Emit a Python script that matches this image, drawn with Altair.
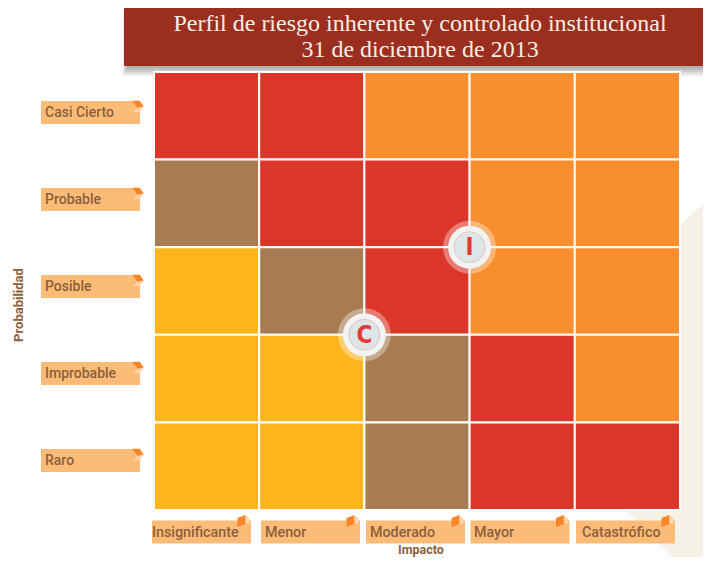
import altair as alt
import pandas as pd

impacts = ["Insignificante", "Menor", "Moderado", "Mayor", "Catastrófico"]
probs = ["Casi Cierto", "Probable", "Posible", "Improbable", "Raro"]
levels = [
    ["R", "R", "O", "O", "O"],
    ["B", "R", "R", "O", "O"],
    ["Y", "B", "R", "O", "O"],
    ["Y", "Y", "B", "R", "O"],
    ["Y", "Y", "B", "R", "R"],
]
marker_names = ["I", "C"]
marker_impact = [3, 2]
marker_prob = [3, 2]

W, H = 695, 549
TEXT = "#8C5F3C"
FONT = "Roboto"

cells = pd.DataFrame([
    {"p": p, "i": i, "level": levels[r][c]}
    for r, p in enumerate(probs) for c, i in enumerate(impacts)
])
one = pd.DataFrame({"a": [0]})
markers = pd.DataFrame({"name": marker_names, "i": marker_impact, "p": marker_prob})
ydf = pd.DataFrame({"label": probs, "k": range(5)})
xdf = pd.DataFrame({"label": impacts, "k": range(5)})


def box(x1, x2, y1, y2, color, opacity=1):
    return alt.Chart(one).mark_rect(color=color, opacity=opacity).encode(
        x=alt.value(x1 - 8), x2=alt.value(x2 - 8), y=alt.value(y1 - 8), y2=alt.value(y2 - 8))


def txt(x, y, s, **kw):
    return alt.Chart(pd.DataFrame({"t": [s]})).mark_text(**kw).encode(
        x=alt.value(x - 8), y=alt.value(y - 8), text="t:N")


# beige backdrop
back = pd.DataFrame({"x": [625, 680, 711], "top": [225, 225, 197], "bot": [510, 565, 565]})
px = alt.Scale(domain=[8, 711], range=[0, 703])
py = alt.Scale(domain=[8, 565], range=[0, 557])
backdrop = alt.Chart(back).mark_area(color="#F5F1E7").encode(
    x=alt.X("x:Q", scale=px, axis=None),
    y=alt.Y("top:Q", scale=py, axis=None),
    y2="bot:Q",
)

shadows = [box(128 - d, 711, 12, 66 + d * 2, "#000000", 0.07) for d in (1, 2, 3, 4, 5)]
banner = box(124, 711, 6, 66, "#9B2E1F")
title1 = txt(420, 24, "Perfil de riesgo inherente y controlado institucional",
             font="Liberation Serif", fontSize=24, color="#F7EDE4", align="center", baseline="middle")
title2 = txt(420, 50, "31 de diciembre de 2013",
             font="Liberation Serif", fontSize=24, color="#F7EDE4", align="center", baseline="middle")

heat = alt.Chart(cells).mark_rect(stroke="white", strokeWidth=2).encode(
    x=alt.X("i:N", scale=alt.Scale(domain=impacts, range=[146, 672], paddingInner=0, paddingOuter=0), axis=None),
    y=alt.Y("p:N", scale=alt.Scale(domain=probs, range=[64, 502], paddingInner=0, paddingOuter=0), axis=None),
    color=alt.Color("level:N", scale=alt.Scale(domain=["R", "O", "B", "Y"],
                                               range=["#DB3629", "#F98E2F", "#A87C52", "#FDB51B"]), legend=None),
)

TAG = "M-1,-0.232 L1,-0.232 L1,0.232 L-1,0.232 Z"
# y tick-label tags
ypos = alt.Y("k:Q", scale=alt.Scale(domain=[0, 4], range=[104.5, 452.5]), axis=None)
ytag = alt.Chart(ydf).mark_point(shape=TAG, size=99 * 99, filled=True, color="#FDBB78", opacity=1).encode(
    x=alt.value(82.5), y=ypos)
fold1 = "M-1,-1 L0.3,-1 L1,0 L-0.1,0.2 Z"
fold2 = "M-1,1 L-0.9,1 L-0.1,0.2 L1,0 L0.3,1 Z"
yf1 = alt.Chart(ydf).mark_point(shape=fold1, size=130, filled=True, color="#F98529", opacity=1, yOffset=-6).encode(
    x=alt.value(130), y=ypos)
yf2 = alt.Chart(ydf).mark_point(shape=fold2, size=130, filled=True, color="#FDD3AC", opacity=1, yOffset=-6).encode(
    x=alt.value(130), y=ypos)
ytext = alt.Chart(ydf).mark_text(align="left", baseline="middle", font=FONT, fontWeight=500,
                                 fontSize=14, color=TEXT, dy=0).encode(
    x=alt.value(37), y=ypos, text="label:N")

# x tick-label tags
xbox = alt.X("k:Q", scale=alt.Scale(domain=[0, 1, 2, 3, 4], range=[193.5, 302.5, 407.5, 512, 617.5]), axis=None)
xtag = alt.Chart(xdf).mark_point(shape=TAG, size=99 * 99, filled=True, color="#FDBB78", opacity=1).encode(
    x=xbox, y=alt.value(524))
xf1 = alt.Chart(xdf).mark_point(shape="M-1,-0.5 L0.3,-1 L0.3,0.5 L-1,1 Z", size=144, filled=True, color="#F98529",
                                opacity=1, xOffset=42, yOffset=-11).encode(x=xbox, y=alt.value(524))
xf2 = alt.Chart(xdf).mark_point(shape="M0.3,-1 L1,-0.4 L1,0.4 L0.3,0.5 Z", size=144, filled=True, color="#FDD3AC",
                                opacity=1, xOffset=42, yOffset=-11).encode(x=xbox, y=alt.value(524))
xlab = alt.X("k:Q", scale=alt.Scale(domain=[0, 1, 2, 3, 4], range=[144, 257, 362, 466, 574]), axis=None)
xtext = alt.Chart(xdf).mark_text(align="left", baseline="middle", font=FONT, fontWeight=500,
                                 fontSize=14.3, color=TEXT).encode(
    x=xlab, y=alt.value(525), text="label:N")

xt = txt(421, 550, "Impacto", font=FONT, fontWeight="bold", fontSize=12.5, color=TEXT,
         align="center", baseline="middle")
yt = txt(19, 305, "Probabilidad", font=FONT, fontWeight="bold", fontSize=13, color=TEXT,
         align="center", baseline="middle", angle=270)

# risk markers on a continuous impact / probability scale
mx = alt.X("i:Q", scale=alt.Scale(domain=[0, 5], range=[146, 672]), axis=None)
my = alt.Y("p:Q", scale=alt.Scale(domain=[0, 5], range=[502, 64]), axis=None)
def disc(r, color, opacity=1, **kw):
    return alt.Chart(markers).mark_circle(size=4 * r * r, color=color, opacity=opacity, **kw).encode(x=mx, y=my)
halo = disc(26.5, "#FFFFFF", 0.35)
ring = disc(21.5, "#F2F4F4")
inner = disc(16, "#DCE5E8")
line = alt.Chart(markers).mark_point(size=4 * 15.5 * 15.5, color="#F2B9A8", strokeWidth=0.7, opacity=1).encode(x=mx, y=my)
letter = alt.Chart(markers).mark_text(font="DejaVu Sans Condensed", fontWeight="bold", fontSize=24,
                                      color="#E63A35", align="center", baseline="middle", dy=1).encode(
    x=mx, y=my, text="name:N")

chart = alt.layer(
    backdrop, *shadows, banner, title1, title2, heat,
    ytag, yf2, yf1, ytext, xtag, xf2, xf1, xtext, xt, yt,
    halo, ring, inner, line, letter,
).resolve_scale(x="independent", y="independent", color="independent").properties(
    width=W, height=H, padding=0, autosize=alt.AutoSizeParams(type="none"),
    background="white",
).configure_view(stroke=None)

chart.save("out.html", embed_options={"renderer": "svg", "actions": False})
